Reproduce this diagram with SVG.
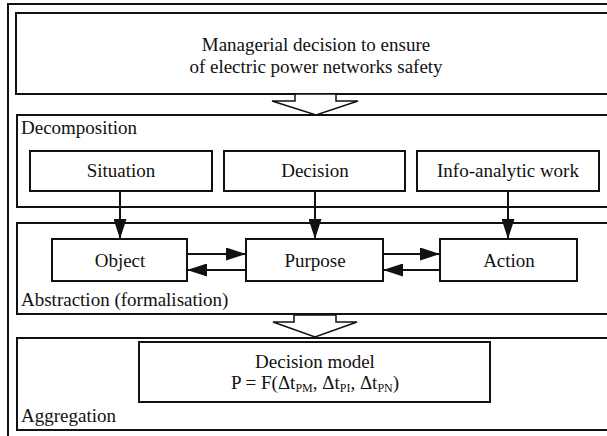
<svg xmlns="http://www.w3.org/2000/svg" width="607" height="436" viewBox="0 0 607 436">
<defs>
<style>
.frame{fill:none;stroke:#111;stroke-width:2}
.box{fill:#fff;stroke:#111;stroke-width:2}
.hollow{fill:#fff;stroke:#111;stroke-width:1.5}
.t{font-family:"Liberation Serif","Times New Roman",serif;font-size:19px;fill:#111}
.c{text-anchor:middle}
.sub{font-size:12px}
.conn{stroke:#111;stroke-width:2;fill:none;marker-end:url(#ah)}
</style>
<marker id="ah" markerUnits="userSpaceOnUse" markerWidth="20" markerHeight="13" refX="20" refY="6.5" orient="auto">
<path d="M0,0 L20,6.5 L0,13 z" fill="#111"/>
</marker>
</defs>
<rect x="0" y="0" width="607" height="436" fill="#fff"/>
<rect id="outer" class="frame" x="8" y="4" width="640" height="460"/>

<g id="top">
<rect class="box" x="16" y="13" width="620" height="81"/>
<text class="t c" x="316" y="51">Managerial decision to ensure</text>
<text class="t c" x="316" y="73">of electric power networks safety</text>
</g>

<g id="decomposition">
<rect class="frame" x="17" y="115" width="620" height="92"/>
<text class="t" x="21" y="134">Decomposition</text>
</g>

<g id="abstraction">
<rect class="frame" x="17" y="223" width="620" height="91"/>
<text class="t" x="21" y="306">Abstraction (formalisation)</text>
</g>

<g id="aggregation">
<rect class="frame" x="17" y="338" width="620" height="92"/>
<text class="t" x="21" y="422">Aggregation</text>
</g>

<g id="situation">
<rect class="box" x="30" y="151" width="182" height="40"/>
<text class="t c" x="121" y="177">Situation</text>
</g>
<g id="decision">
<rect class="box" x="224" y="151" width="181" height="40"/>
<text class="t c" x="315" y="177">Decision</text>
</g>
<g id="info">
<rect class="box" x="417" y="151" width="182" height="40"/>
<text class="t c" x="508" y="177">Info-analytic work</text>
</g>

<g id="object">
<rect class="box" x="52" y="239" width="135" height="42"/>
<text class="t c" x="120" y="267">Object</text>
</g>
<g id="purpose">
<rect class="box" x="246" y="239" width="137" height="42"/>
<text class="t c" x="315" y="267">Purpose</text>
</g>
<g id="action">
<rect class="box" x="440" y="239" width="137" height="42"/>
<text class="t c" x="509" y="267">Action</text>
</g>

<g id="model">
<rect class="box" x="139" y="342" width="351" height="60"/>
<text class="t c" x="315" y="368">Decision model</text>
<text class="t c" x="315" y="389">P = F(Δt<tspan class="sub" dy="3">PM</tspan><tspan dy="-3">, Δt</tspan><tspan class="sub" dy="3">PI</tspan><tspan dy="-3">, Δt</tspan><tspan class="sub" dy="3">PN</tspan><tspan dy="-3">)</tspan></text>
</g>

<g id="connectors">
<polygon class="hollow" points="295,94 295,101 272,101 316,115 358,101 336,101 336,94"/>
<polygon class="hollow" points="294,315 294,322 273,322 315,337 357,322 336,322 336,315"/>
<line class="conn" x1="120" y1="191" x2="120" y2="239"/>
<line class="conn" x1="315" y1="191" x2="315" y2="239"/>
<line class="conn" x1="508" y1="191" x2="508" y2="239"/>
<line class="conn" x1="187" y1="254" x2="246" y2="254"/>
<line class="conn" x1="246" y1="270" x2="187" y2="270"/>
<line class="conn" x1="383" y1="254" x2="440" y2="254"/>
<line class="conn" x1="440" y1="270" x2="383" y2="270"/>
</g>
</svg>
